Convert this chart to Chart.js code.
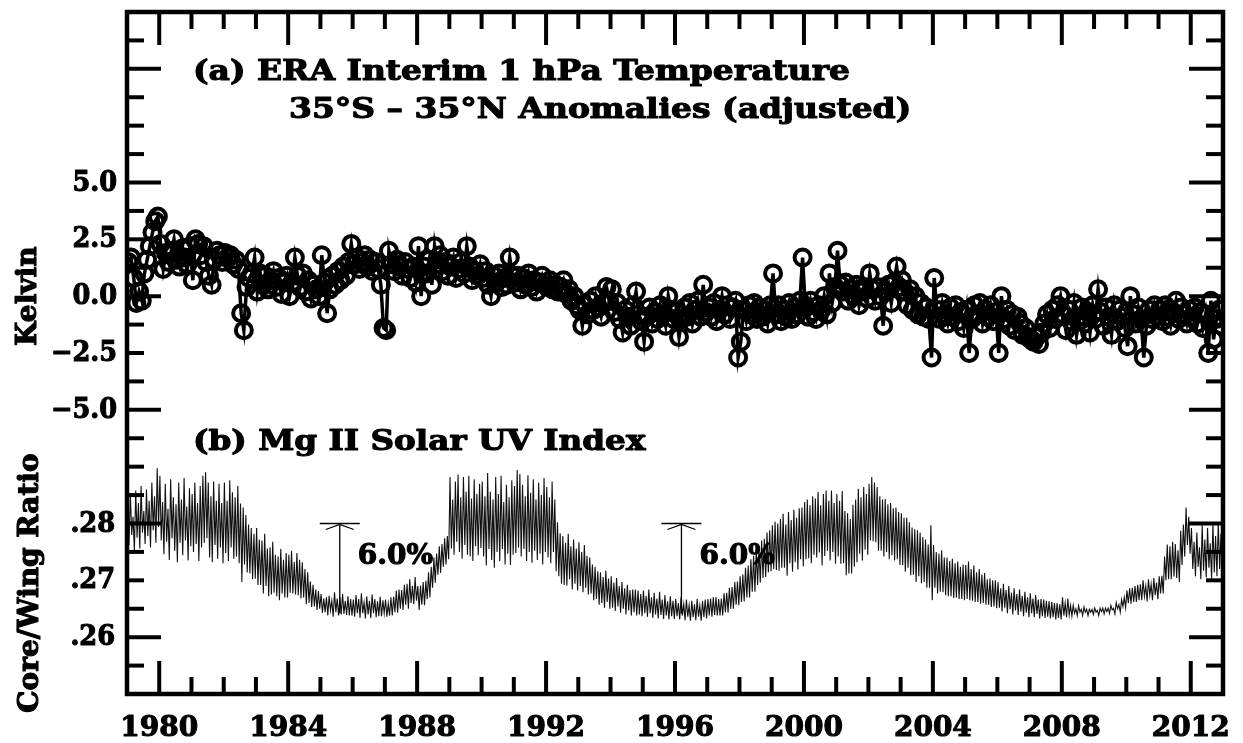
<!DOCTYPE html>
<html>
<head>
<meta charset="utf-8">
<title>ERA Interim 1 hPa Temperature / Mg II Solar UV Index</title>
<script src="https://cdn.jsdelivr.net/npm/chart.js@4.4.0/dist/chart.umd.min.js"></script>
<style>
  html, body { margin: 0; padding: 0; background: #fff; }
  #wrap { width: 1243px; height: 743px; }
</style>
</head>
<body>
<div id="wrap"><canvas id="era"></canvas></div>
<script>
const firstYear = 1979;
const lastYear = 2013;

// 1 hPa temperature anomalies, 35S-35N (K), one row per year, Jan..Dec
const tempAnomaly = [
  1.5, 1.7, 0.8, -0.3, 0.2, -0.2, 1.0, 1.6, 2.2, 2.8, 3.3, 3.5,        // 1979
  2.3, 1.2, 1.9, 1.5, 2.0, 2.5, 1.6, 1.3, 2.1, 1.7, 1.4, 2.2,          // 1980
  0.7, 2.5, 2.3, 1.8, 2.2, 1.5, 0.9, 0.5, 1.6, 2.0, 1.8, 1.5,          // 1981
  1.9, 1.7, 1.8, 1.4, 1.6, 1.2, -0.75, -1.5, 0.4, 0.8, 1.0, 1.7,       // 1982
  0.2, 1.0, 0.5, 0.9, 0.3, 0.7, 1.1, 0.4, 0.8, 0.1, 0.6, 0.9,          // 1983
  0.0, 0.6, 1.7, 0.9, 0.4, 1.0, 0.2, 0.7, -0.1, 0.5, 0.3, 0.0,         // 1984
  1.8, 0.6, -0.75, 0.3, 0.9, 0.5, 1.1, 0.7, 1.3, 0.9, 1.5, 2.3,        // 1985
  1.4, 1.7, 1.2, 1.5, 1.8, 1.3, 1.6, 1.1, 1.5, 1.2, 0.5, -1.4,         // 1986
  -1.5, 2.0, 1.4, 1.1, 1.6, 1.3, 0.9, 1.5, 1.2, 0.8, 1.3, 0.6,         // 1987
  2.2, 0.0, 1.3, 1.0, 1.6, 0.5, 2.2, 1.4, 1.8, 1.1, 1.5, 0.9,          // 1988
  1.3, 1.7, 0.8, 1.2, 1.5, 1.0, 2.2, 1.3, 0.7, 1.1, 0.9, 1.4,          // 1989
  0.8, 1.1, 0.5, 0.0, 0.9, 0.6, 1.0, 0.4, 0.8, 0.5, 1.7, 0.9,          // 1990
  0.6, 0.9, 0.3, 0.8, 0.5, 1.0, 0.4, 0.7, 0.2, 0.6, 0.9, 0.5,          // 1991
  0.4, 0.7, 0.3, 0.5, 0.2, 0.4, 0.7, 0.1, 0.3, -0.2, 0.0, -0.4,        // 1992
  -0.6, -1.3, -0.4, -0.8, -0.2, -0.6, 0.0, -0.5, -0.9, -0.3, 0.4, -0.2, // 1993
  0.3, -0.7, -0.3, -1.0, -1.6, -0.6, -0.9, -1.3, -0.4, 0.2, -0.8, -1.1, // 1994
  -2.0, -0.9, -0.5, -1.2, -0.7, -1.0, -0.4, -0.8, -1.3, 0.0, -0.6, -1.0, // 1995
  -0.7, -1.8, -1.0, -0.5, -0.9, -0.3, -1.2, -0.6, -0.2, -0.9, 0.5, -0.7, // 1996
  -0.5, -0.9, -0.3, -1.1, -0.6, 0.0, -0.8, -0.4, -1.0, -0.5, -0.2, -2.7, // 1997
  -2.0, -0.6, -1.1, -0.4, -0.8, -0.3, -1.0, -0.5, -0.9, -0.6, -1.2, -0.4, // 1998
  1.0, -0.8, -0.4, -1.1, -0.6, -0.9, -0.3, -1.0, -0.5, -0.8, -0.2, 1.7,  // 1999
  -0.5, -0.9, -0.2, -0.7, -1.0, -0.4, -0.6, 0.0, -0.8, 1.0, -0.3, 0.4,   // 2000
  2.0, 0.5, 0.2, 0.6, -0.2, 0.3, 0.0, 0.5, -0.4, 0.2, 0.4, -0.1,         // 2001
  1.0, 0.3, -0.2, 0.4, 0.0, -1.3, 0.2, 0.5, -0.3, 0.6, 1.3, 0.4,         // 2002
  0.7, 0.2, -0.4, 0.3, -0.6, 0.0, -0.8, -0.3, -0.9, -0.5, -1.0, -2.7,    // 2003
  0.8, -0.6, -1.0, -0.3, -0.8, -1.2, -0.5, -0.9, -0.4, -1.1, -0.7, -1.4, // 2004
  -0.6, -2.5, -1.0, -0.4, -0.8, -0.3, -1.2, -0.6, -0.9, -0.4, -1.1, -0.7, // 2005
  -2.5, 0.0, -1.0, -0.6, -1.3, -0.8, -1.5, -0.9, -1.2, -1.7, -1.4, -1.8, // 2006
  -1.9, -2.0, -1.8, -2.1, -1.6, -1.2, -0.8, -1.4, -0.6, -1.0, -0.4, 0.0, // 2007
  -0.8, -1.5, -0.6, -1.1, -0.3, -1.7, -0.9, -0.5, -1.2, -0.7, -1.6, -0.4, // 2008
  -1.0, 0.3, -0.7, -1.3, -0.5, -0.9, -1.7, -0.4, -1.1, -0.6, -0.9, -1.4, // 2009
  -2.2, 0.0, -0.8, -1.2, -0.5, -1.0, -2.7, -1.3, -0.6, -1.0, -0.4, -0.9, // 2010
  -0.6, -1.1, -0.4, -0.9, -1.3, -0.7, -0.2, -1.0, -0.5, -0.8, -1.2, -0.6, // 2011
  -0.9, -0.5, -1.2, -0.7, -1.4, -0.8, -2.5, -0.2, -1.9, -1.0, -0.6, -1.3  // 2012
];

// Mg II core/wing ratio: monthly upper excursion (rotational maxima)
const mgHigh = [
  .2830, .2852, .2812, .2858, .2836, .2866, .2822, .2860, .2840, .2872, .2848, .2897, // 1979
  .2884, .2838, .2870, .2826, .2878, .2846, .2834, .2872, .2842, .2880, .2830, .2862, // 1980
  .2852, .2872, .2836, .2866, .2884, .2890, .2872, .2848, .2874, .2840, .2870, .2836, // 1981
  .2872, .2840, .2876, .2855, .2846, .2866, .2835, .2828, .2815, .2798, .2792, .2782, // 1982
  .2792, .2772, .2770, .2782, .2756, .2758, .2768, .2745, .2742, .2755, .2736, .2748, // 1983
  .2745, .2752, .2732, .2748, .2736, .2732, .2720, .2714, .2698, .2692, .2684, .2681, // 1984
  .2676, .2668, .2670, .2673, .2664, .2679, .2668, .2670, .2676, .2664, .2672, .2667, // 1985
  .2666, .2674, .2667, .2677, .2661, .2672, .2664, .2675, .2667, .2663, .2671, .2665, // 1986
  .2666, .2659, .2670, .2671, .2682, .2684, .2683, .2692, .2694, .2702, .2690, .2706, // 1987
  .2690, .2691, .2697, .2699, .2714, .2724, .2740, .2747, .2760, .2764, .2774, .2778, // 1988
  .2882, .2842, .2874, .2886, .2846, .2882, .2856, .2884, .2844, .2878, .2852, .2870, // 1989
  .2874, .2848, .2889, .2856, .2842, .2882, .2852, .2884, .2838, .2868, .2846, .2876, // 1990
  .2866, .2894, .2887, .2868, .2848, .2885, .2854, .2878, .2842, .2872, .2850, .2880, // 1991
  .2864, .2846, .2874, .2842, .2802, .2783, .2778, .2766, .2782, .2760, .2772, .2756, // 1992
  .2767, .2750, .2762, .2743, .2740, .2728, .2724, .2716, .2714, .2706, .2717, .2703, // 1993
  .2707, .2696, .2704, .2690, .2697, .2686, .2692, .2683, .2684, .2684, .2682, .2676, // 1994
  .2682, .2673, .2684, .2670, .2678, .2668, .2680, .2666, .2674, .2663, .2672, .2664, // 1995
  .2667, .2660, .2670, .2658, .2666, .2656, .2664, .2658, .2667, .2656, .2664, .2666, // 1996
  .2667, .2668, .2670, .2670, .2667, .2668, .2677, .2678, .2687, .2688, .2697, .2698, // 1997
  .2707, .2710, .2722, .2726, .2737, .2743, .2754, .2758, .2770, .2773, .2784, .2788, // 1998
  .2797, .2803, .2800, .2808, .2817, .2798, .2820, .2806, .2824, .2810, .2827, .2828, // 1999
  .2838, .2842, .2832, .2848, .2844, .2856, .2832, .2852, .2858, .2840, .2858, .2836, // 2000
  .2852, .2840, .2857, .2822, .2818, .2808, .2833, .2842, .2861, .2846, .2864, .2852, // 2001
  .2870, .2882, .2872, .2864, .2848, .2842, .2843, .2834, .2836, .2827, .2828, .2820, // 2002
  .2818, .2810, .2810, .2802, .2793, .2790, .2788, .2784, .2776, .2772, .2763, .2797, // 2003
  .2762, .2750, .2747, .2753, .2740, .2740, .2734, .2738, .2730, .2733, .2724, .2728, // 2004
  .2727, .2733, .2720, .2726, .2714, .2720, .2710, .2713, .2702, .2703, .2700, .2700, // 2005
  .2697, .2686, .2694, .2683, .2690, .2678, .2686, .2676, .2684, .2673, .2680, .2670, // 2006
  .2677, .2668, .2674, .2666, .2667, .2666, .2664, .2663, .2662, .2660, .2660, .2658, // 2007
  .2670, .2660, .2668, .2656, .2656, .2650, .2655, .2649, .2653, .2649, .2649, .2649, // 2008
  .2651, .2647, .2651, .2651, .2651, .2651, .2656, .2651, .2661, .2657, .2666, .2670, // 2009
  .2682, .2686, .2687, .2690, .2692, .2693, .2700, .2690, .2702, .2693, .2704, .2696, // 2010
  .2707, .2708, .2742, .2763, .2760, .2768, .2764, .2753, .2787, .2798, .2828, .2812, // 2011
  .2792, .2768, .2784, .2758, .2797, .2772, .2792, .2765, .2800, .2778, .2802, .2782  // 2012
];

// Mg II core/wing ratio: monthly lower excursion (rotational minima)
const mgLow = [
  .2762, .2780, .2752, .2775, .2756, .2784, .2764, .2778, .2758, .2788, .2766, .2794, // 1979
  .2770, .2746, .2768, .2736, .2774, .2752, .2732, .2766, .2744, .2770, .2735, .2760, // 1980
  .2750, .2764, .2734, .2758, .2766, .2774, .2740, .2732, .2762, .2738, .2758, .2730, // 1981
  .2748, .2734, .2758, .2738, .2742, .2730, .2697, .2728, .2714, .2712, .2702, .2703, // 1982
  .2692, .2692, .2677, .2690, .2672, .2675, .2678, .2672, .2665, .2677, .2670, .2670, // 1983
  .2678, .2677, .2675, .2674, .2668, .2670, .2658, .2660, .2653, .2654, .2648, .2650, // 1984
  .2643, .2644, .2638, .2647, .2636, .2644, .2638, .2640, .2641, .2639, .2638, .2638, // 1985
  .2636, .2642, .2634, .2642, .2633, .2640, .2634, .2642, .2635, .2637, .2637, .2642, // 1986
  .2636, .2638, .2638, .2644, .2643, .2650, .2648, .2657, .2650, .2660, .2658, .2664, // 1987
  .2648, .2657, .2656, .2667, .2670, .2687, .2696, .2710, .2713, .2724, .2728, .2737, // 1988
  .2756, .2745, .2768, .2750, .2738, .2762, .2745, .2742, .2734, .2760, .2744, .2757, // 1989
  .2742, .2726, .2755, .2736, .2722, .2750, .2734, .2755, .2728, .2747, .2727, .2745, // 1990
  .2748, .2758, .2742, .2755, .2734, .2750, .2731, .2752, .2736, .2747, .2728, .2750, // 1991
  .2740, .2730, .2750, .2716, .2707, .2694, .2692, .2691, .2702, .2684, .2694, .2682, // 1992
  .2690, .2679, .2687, .2675, .2677, .2665, .2667, .2657, .2660, .2652, .2662, .2650, // 1993
  .2652, .2646, .2654, .2643, .2650, .2640, .2647, .2638, .2644, .2638, .2640, .2637, // 1994
  .2642, .2636, .2642, .2634, .2640, .2633, .2639, .2632, .2638, .2631, .2637, .2632, // 1995
  .2637, .2631, .2638, .2630, .2636, .2629, .2635, .2630, .2636, .2629, .2635, .2633, // 1996
  .2638, .2636, .2639, .2638, .2638, .2638, .2644, .2643, .2650, .2650, .2657, .2656, // 1997
  .2662, .2663, .2670, .2670, .2680, .2680, .2692, .2696, .2704, .2706, .2714, .2716, // 1998
  .2720, .2718, .2717, .2722, .2722, .2708, .2730, .2715, .2732, .2719, .2737, .2725, // 1999
  .2737, .2739, .2730, .2745, .2740, .2749, .2726, .2743, .2752, .2735, .2750, .2729, // 2000
  .2742, .2729, .2730, .2709, .2712, .2712, .2724, .2732, .2747, .2735, .2754, .2745, // 2001
  .2770, .2769, .2767, .2752, .2752, .2742, .2750, .2737, .2744, .2735, .2737, .2727, // 2002
  .2727, .2715, .2722, .2709, .2710, .2697, .2707, .2695, .2697, .2687, .2687, .2665, // 2003
  .2687, .2677, .2680, .2679, .2674, .2672, .2672, .2669, .2670, .2667, .2667, .2665, // 2004
  .2667, .2665, .2664, .2662, .2662, .2659, .2660, .2657, .2657, .2653, .2654, .2651, // 2005
  .2652, .2645, .2652, .2642, .2649, .2640, .2647, .2639, .2645, .2637, .2643, .2635, // 2006
  .2642, .2635, .2641, .2633, .2637, .2634, .2636, .2633, .2635, .2631, .2634, .2631, // 2007
  .2638, .2635, .2639, .2637, .2642, .2638, .2644, .2638, .2644, .2638, .2644, .2640, // 2008
  .2644, .2638, .2645, .2641, .2645, .2642, .2648, .2641, .2650, .2644, .2654, .2652, // 2009
  .2660, .2659, .2662, .2662, .2665, .2665, .2672, .2663, .2674, .2665, .2674, .2667, // 2010
  .2677, .2677, .2700, .2702, .2702, .2707, .2704, .2697, .2727, .2742, .2762, .2747, // 2011
  .2720, .2707, .2724, .2702, .2717, .2705, .2722, .2703, .2714, .2707, .2720, .2709  // 2012
];

const majorYears = [1980, 1984, 1988, 1992, 1996, 2000, 2004, 2008, 2012];
const kelvinRange = [-17.5, 12.5];
const ratioRange = [0.25, 0.37];
const kelvinTicks = [5.0, 2.5, 0.0, -2.5, -5.0];
const kelvinTickLabels = ['5.0', '2.5', '0.0', '\u22122.5', '\u22125.0'];
const ratioTicks = [0.28, 0.27, 0.26];
const ratioTickLabels = ['.28', '.27', '.26'];

// 6.0% solar-cycle markers, measured down from the .28 level
const arrowYears = [1985.6, 1996.2];
const arrowTop = 0.28;
const arrowPercent = 6.0;

const tempPoints = tempAnomaly.map((v, i) => ({ x: firstYear + (i + 0.5) / 12, y: v }));
const mgPoints = [];
mgHigh.forEach((hi, i) => {
  mgPoints.push({ x: firstYear + (i + 0.25) / 12, y: hi });
  mgPoints.push({ x: firstYear + (i + 0.75) / 12, y: mgLow[i] });
});

const FONT = '"DejaVu Serif", "Liberation Serif", serif';

// bold text, optionally stretched horizontally and rotated, with a thin
// outline so the glyphs come out heavy
function drawText(ctx, text, x, y, size, align, stretch, rotate) {
  ctx.save();
  ctx.translate(x, y);
  if (rotate) ctx.rotate(rotate);
  ctx.scale(stretch || 1, 1);
  ctx.font = 'bold ' + size + 'px ' + FONT;
  ctx.textAlign = align || 'left';
  ctx.fillStyle = '#000';
  ctx.strokeStyle = '#000';
  ctx.lineWidth = 1.1;
  ctx.lineJoin = 'round';
  ctx.fillText(text, 0, 0);
  ctx.strokeText(text, 0, 0);
  ctx.restore();
}

function seg(ctx, x1, y1, x2, y2) {
  ctx.beginPath();
  ctx.moveTo(x1, y1);
  ctx.lineTo(x2, y2);
  ctx.stroke();
}

// frame, inward ticks, labels and the two annotated panels
const framePlugin = {
  id: 'frame',
  afterDraw(chart) {
    const { ctx, chartArea: a, scales } = chart;
    const x = scales.x, y = scales.y, y2 = scales.y2;
    ctx.save();
    ctx.strokeStyle = '#000';
    ctx.lineCap = 'butt';

    ctx.lineWidth = 4;
    for (let yr = firstYear + 1; yr < lastYear; yr++) {
      const px = x.getPixelForValue(yr);
      const len = majorYears.includes(yr) ? 33 : 17;
      seg(ctx, px, a.top, px, a.top + len);
      seg(ctx, px, a.bottom, px, a.bottom - len);
    }
    for (let k = kelvinRange[0] + 1.25; k < kelvinRange[1]; k += 1.25) {
      const py = y.getPixelForValue(k);
      const len = Math.abs(k % 5) < 1e-6 ? 34 : 17;
      seg(ctx, a.left, py, a.left + len, py);
      seg(ctx, a.right, py, a.right - len, py);
    }

    ctx.lineWidth = 4.5;
    ctx.strokeRect(a.left, a.top, a.right - a.left, a.bottom - a.top);

    // tick labels
    ctx.textBaseline = 'middle';
    kelvinTicks.forEach((v, i) => {
      drawText(ctx, kelvinTickLabels[i], a.left - 10, y.getPixelForValue(v) + 1, 27, 'right', 0.95);
    });
    ratioTicks.forEach((v, i) => {
      drawText(ctx, ratioTickLabels[i], a.left - 12, y2.getPixelForValue(v) + 1, 27, 'right', 0.95);
    });
    ctx.textBaseline = 'alphabetic';
    majorYears.forEach(yr => {
      drawText(ctx, String(yr), x.getPixelForValue(yr), a.bottom + 42, 28, 'center', 1.0);
    });

    // axis titles
    ctx.textBaseline = 'middle';
    drawText(ctx, 'Kelvin', 29, y.getPixelForValue(0), 28, 'center', 1.0, -Math.PI / 2);
    drawText(ctx, 'Core/Wing Ratio', 31, 583, 28, 'center', 1.0, -Math.PI / 2);

    // panel titles
    ctx.textBaseline = 'alphabetic';
    drawText(ctx, '(a) ERA Interim 1 hPa Temperature', 193, 80, 27, 'left', 1.22);
    drawText(ctx, '35\u00B0S \u2013 35\u00B0N Anomalies (adjusted)', 289, 118, 27, 'left', 1.22);
    drawText(ctx, '(b) Mg II Solar UV Index', 193, 450, 27, 'left', 1.21);

    // 6.0% markers
    ctx.lineWidth = 1.3;
    const top = y2.getPixelForValue(arrowTop);
    const base = y2.getPixelForValue(arrowTop / (1 + arrowPercent / 100));
    arrowYears.forEach(yr => {
      const px = x.getPixelForValue(yr);
      seg(ctx, px - 20, top, px + 20, top);
      seg(ctx, px, top, px, base);
      ctx.beginPath();
      ctx.moveTo(px - 14, top + 6);
      ctx.lineTo(px, top + 1);
      ctx.lineTo(px + 14, top + 6);
      ctx.stroke();
      drawText(ctx, arrowPercent.toFixed(1) + '%', px + 18, top + 40, 28, 'left', 1.0);
    });
    ctx.restore();
  }
};

new Chart(document.getElementById('era'), {
  type: 'line',
  data: {
    datasets: [
      {
        label: 'Mg II',
        data: mgPoints,
        yAxisID: 'y2',
        borderColor: '#111',
        borderWidth: 1.1,
        pointRadius: 0,
        tension: 0
      },
      {
        label: 'Temperature anomaly',
        data: tempPoints,
        yAxisID: 'y',
        borderColor: '#000',
        borderWidth: 3.5,
        pointRadius: 8,
        pointBorderWidth: 4,
        pointBorderColor: '#000',
        pointBackgroundColor: 'rgba(0,0,0,0)',
        tension: 0
      }
    ]
  },
  options: {
    responsive: true,
    maintainAspectRatio: false,
    animation: false,
    layout: { padding: { left: 127, right: 20, top: 12, bottom: 49 } },
    plugins: { legend: { display: false }, tooltip: { enabled: false } },
    scales: {
      x: { type: 'linear', min: firstYear, max: lastYear, display: false },
      y: { min: kelvinRange[0], max: kelvinRange[1], display: false },
      y2: { min: ratioRange[0], max: ratioRange[1], display: false }
    }
  },
  plugins: [framePlugin]
});
</script>
</body>
</html>
